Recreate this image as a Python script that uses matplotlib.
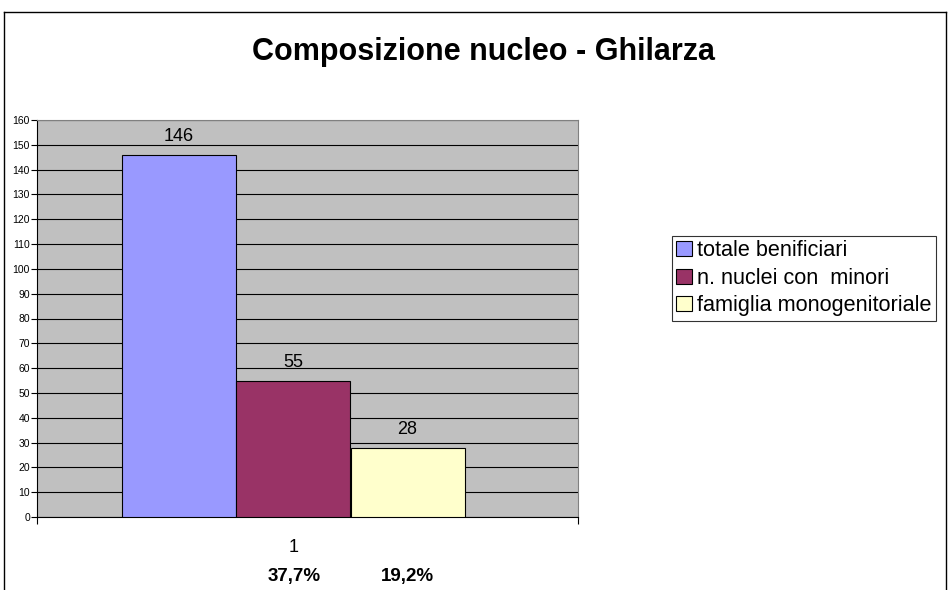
import matplotlib.pyplot as plt

plt.rcParams['font.family'] = ['Liberation Sans', 'DejaVu Sans']

series = ['totale benificiari', 'n. nuclei con  minori', 'famiglia monogenitoriale']
values = [146, 55, 28]
colors = ['#9999FF', '#993366', '#FFFFCC']
category = '1'
percent_labels = ['37,7%', '19,2%']

W, H = 948, 590
fig = plt.figure(figsize=(W / 100, H / 100), dpi=100)

# outer chart border (cut off at the bottom)
fig.add_artist(plt.Line2D([4 / W, 4 / W], [0, 1 - 12 / H], color='black', lw=1))
fig.add_artist(plt.Line2D([4 / W, 946 / W], [1 - 12 / H, 1 - 12 / H], color='black', lw=1))
fig.add_artist(plt.Line2D([946 / W, 946 / W], [0, 1 - 12 / H], color='black', lw=1))

ax = fig.add_axes([37 / W, 1 - 517 / H, 541 / W, 397 / H])
ax.set_facecolor('#C0C0C0')

offsets = [-0.2375, -0.027, 0.185]
width = 0.211
for off, v, c, name in zip(offsets, values, colors, series):
    ax.bar(off, v, width=width, color=c, edgecolor='black', linewidth=0.8, label=name, zorder=3)
    ax.text(off, v + 3.8, str(v), ha='center', va='bottom', fontsize=13, zorder=4)

ax.set_xlim(-0.5, 0.5)
ax.set_ylim(0, 160)
ax.set_yticks(range(0, 161, 10))
ax.tick_params(axis='y', labelsize=7.5, length=4, width=0.8, pad=1)
ax.yaxis.grid(True, color='black', linewidth=0.8, zorder=1)
ax.set_xticks([-0.5, 0.5])
ax.set_xticklabels(['', ''])
ax.tick_params(axis='x', length=5, width=0.8)
for s in ['top', 'right']:
    ax.spines[s].set_color('#808080')
for s in ['left', 'bottom']:
    ax.spines[s].set_color('black')

# category label and percentages under the axis
fig.text(294 / W, 1 - 548 / H, category, ha='center', va='center', fontsize=13)
fig.text(294 / W, 1 - 576 / H, percent_labels[0], ha='center', va='center', fontsize=13.5, fontweight='bold')
fig.text(407 / W, 1 - 576 / H, percent_labels[1], ha='center', va='center', fontsize=13.5, fontweight='bold')

fig.text(484 / W, 1 - 52 / H, 'Composizione nucleo - Ghilarza', ha='center', va='center',
         fontsize=22, fontweight='bold')

leg = fig.legend(loc='upper left', bbox_to_anchor=(672 / W, 1 - 236 / H), frameon=True,
                 fancybox=False, edgecolor='black', fontsize=15.6, handlelength=0.7,
                 handleheight=0.7, handletextpad=0.25, borderpad=0.2, labelspacing=0.3,
                 borderaxespad=0)
leg.get_frame().set_linewidth(0.8)

fig.savefig('out.png', dpi=100)
